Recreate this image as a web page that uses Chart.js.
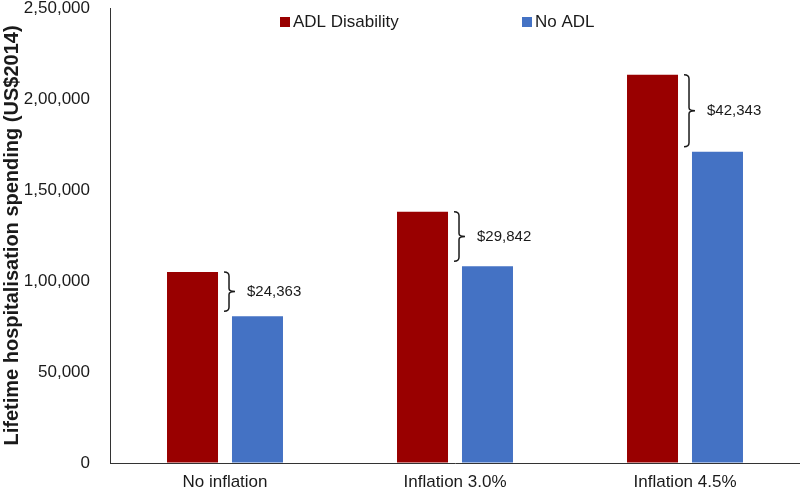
<!DOCTYPE html>
<html>
<head>
<meta charset="utf-8">
<script src="https://cdn.jsdelivr.net/npm/chart.js@4"></script>
<style>
  html, body { margin: 0; padding: 0; background: #fff; }
  #wrap { width: 800px; height: 491px; }
</style>
</head>
<body>
<div id="wrap"><canvas id="chart" width="800" height="491"></canvas></div>
<script>
var categories = ["No inflation", "Inflation 3.0%", "Inflation 4.5%"];
var adlValues = [105000, 138000, 213300];
var noAdlValues = [80637, 108158, 170957];
var gapLabels = ["$24,363", "$29,842", "$42,343"];
var yTickLabels = ["0", "50,000", "1,00,000", "1,50,000", "2,00,000", "2,50,000"];
var seriesNames = ["ADL Disability", "No ADL"];
var seriesColors = ["#990000", "#4472C4"];

var FONT = "'Liberation Sans', Arial, sans-serif";
var TEXT = "#1a1a1a";

// curly brackets + difference labels
var bracketPlugin = {
    id: "brackets",
    afterDatasetsDraw: function(chart){
        let ctx = chart.ctx;
        let a = chart.getDatasetMeta(0).data;
        let b = chart.getDatasetMeta(1).data;
        ctx.save();
        ctx.strokeStyle = "#1a1a1a";
        ctx.lineWidth = 1.5;
        for (let i = 0; i < a.length; i++) {
            let x = a[i].x + a[i].width / 2 + 11;
            let top = a[i].y;
            let bot = b[i].y - 5;
            let mid = (top + bot) / 2;
            ctx.beginPath();
            ctx.moveTo(x - 5, top);
            ctx.quadraticCurveTo(x, top, x, top + 4);
            ctx.lineTo(x, mid - 3);
            ctx.quadraticCurveTo(x, mid, x + 6, mid);
            ctx.quadraticCurveTo(x, mid, x, mid + 3);
            ctx.lineTo(x, bot - 4);
            ctx.quadraticCurveTo(x, bot, x - 5, bot);
            ctx.stroke();
            ctx.fillStyle = TEXT;
            ctx.font = "15px " + FONT;
            ctx.textAlign = "left";
            ctx.textBaseline = "middle";
            ctx.fillText(gapLabels[i], x + 18, mid);
        }
        ctx.restore();
    }
};

// legend drawn inside the plot, at the top
var legendPlugin = {
    id: "topLegend",
    afterDraw: function(chart){
        let ctx = chart.ctx;
        let xs = [280, 522];
        ctx.save();
        ctx.font = "17px " + FONT;
        ctx.textBaseline = "middle";
        ctx.textAlign = "left";
        for (let i = 0; i < seriesNames.length; i++) {
            ctx.fillStyle = seriesColors[i];
            ctx.fillRect(xs[i], 17, 10, 10);
            ctx.fillStyle = TEXT;
            ctx.fillText(seriesNames[i], xs[i] + 13, 22);
        }
        ctx.restore();
    }
};

var ctx = document.getElementById("chart");
var chart = new Chart(ctx, {
    type: "bar",
    data: {
        labels: categories,
        datasets: [
            { label: seriesNames[0], data: adlValues, backgroundColor: seriesColors[0] },
            { label: seriesNames[1], data: noAdlValues, backgroundColor: seriesColors[1] }
        ]
    },
    options: {
        responsive: false,
        animation: false,
        devicePixelRatio: 1,
        categoryPercentage: 0.565,
        barPercentage: 0.785,
        layout: { autoPadding: false, padding: { top: 8, right: 0, bottom: 0, left: 0 } },
        plugins: { legend: { display: false }, tooltip: { enabled: false } },
        scales: {
            x: {
                grid: { display: false, drawTicks: false },
                border: { color: "#333", width: 1 },
                ticks: { color: TEXT, font: { family: FONT, size: 17 }, padding: 9 },
                afterFit: function(s){ s.height = 28; }
            },
            y: {
                min: 0,
                max: 250000,
                // invisible tick marks give the gap between labels and axis
                grid: { display: true, drawOnChartArea: false, drawTicks: true, tickLength: 20, tickColor: "rgba(0,0,0,0)" },
                border: { color: "#333", width: 1 },
                ticks: {
                    stepSize: 50000,
                    color: TEXT,
                    font: { family: FONT, size: 17, lineHeight: 0.94 },
                    padding: 0,
                    callback: function(v, i){ return yTickLabels[i]; }
                },
                title: {
                    display: true,
                    text: "Lifetime hospitalisation spending (US$2014)",
                    color: TEXT,
                    font: { family: FONT, size: 20, weight: "bold" },
                    padding: { top: 0, bottom: 0 }
                },
                afterFit: function(s){ s.width = 110; }
            }
        }
    },
    plugins: [bracketPlugin, legendPlugin]
});
</script>
</body>
</html>
